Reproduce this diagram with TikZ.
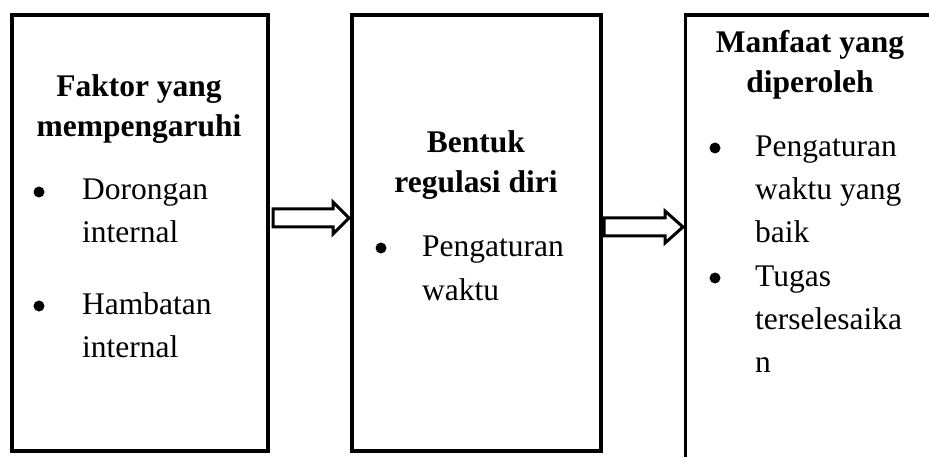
\documentclass[tikz,border=0pt]{standalone}
\usepackage{fontspec}
\setmainfont{Liberation Serif}
\begin{document}
\begin{tikzpicture}[x=1pt,y=-1pt,
  frame/.style={line width=3.5pt,draw=black},
  title/.style={anchor=base,inner sep=0pt,font=\fontsize{31.5}{40}\selectfont\bfseries},
  item/.style={anchor=base west,inner sep=0pt,font=\fontsize{31.5}{43}\selectfont},
  bul/.style={circle,fill=black,inner sep=0pt,minimum size=11pt},
  blockarrow/.style={draw=black,fill=white,line width=3pt,line join=miter}]
\useasboundingbox (0,0) rectangle (929,457);
\clip (0,0) rectangle (929,457);
% boxes
\node[frame,inner sep=0pt,minimum width=256pt,minimum height=436pt] (b1) at (140,233) {};
\node[frame,inner sep=0pt,minimum width=249pt,minimum height=436pt] (b2) at (476.5,233) {};
\draw[frame] (685.5,480) -- (685.5,15) -- (960,15);
\coordinate (b3w) at (685.5,222);
% box 1 text
\node[title] (t1a) at (139,97) {Faktor yang};
\node[title] (t1b) at (139,137) {mempengaruhi};
\node[bul] (d1a) at (39,192) {};
\node[item] (i1a) at (82,200) {Dorongan};
\node[item] (i1b) at (82,243) {internal};
\node[bul] (d1b) at (39,306) {};
\node[item] (i1c) at (82,314) {Hambatan};
\node[item] (i1d) at (82,357) {internal};
% box 2 text
\node[title] (t2a) at (476,153) {Bentuk};
\node[title] (t2b) at (476,193) {regulasi diri};
\node[bul] (d2a) at (381,248) {};
\node[item] (i2a) at (422,257) {Pengaturan};
\node[item] (i2b) at (422,300) {waktu};
% box 3 text
\node[title] (t3a) at (810,53) {Manfaat yang};
\node[title] (t3b) at (810,93) {diperoleh};
\node[bul] (d3a) at (715,148) {};
\node[item] (i3a) at (755,157) {Pengaturan};
\node[item] (i3b) at (755,200) {waktu yang};
\node[item] (i3c) at (755,243) {baik};
\node[bul] (d3b) at (715,278) {};
\node[item] (i3d) at (755,286) {Tugas};
\node[item] (i3e) at (755,329) {terselesaika};
\node[item] (i3f) at (755,372) {n};
% arrows (from box 1 to box 2, from box 2 to box 3)
\draw[blockarrow] (273,209) -- (333,209) -- (333,202) -- (349,218) -- (333,234) -- (333,227) -- (273,227) -- cycle;
\draw[blockarrow] (604,218) -- (665,218) -- (665,211) -- (683,227) -- (665,243) -- (665,236) -- (604,236) -- cycle;
\end{tikzpicture}
\end{document}
